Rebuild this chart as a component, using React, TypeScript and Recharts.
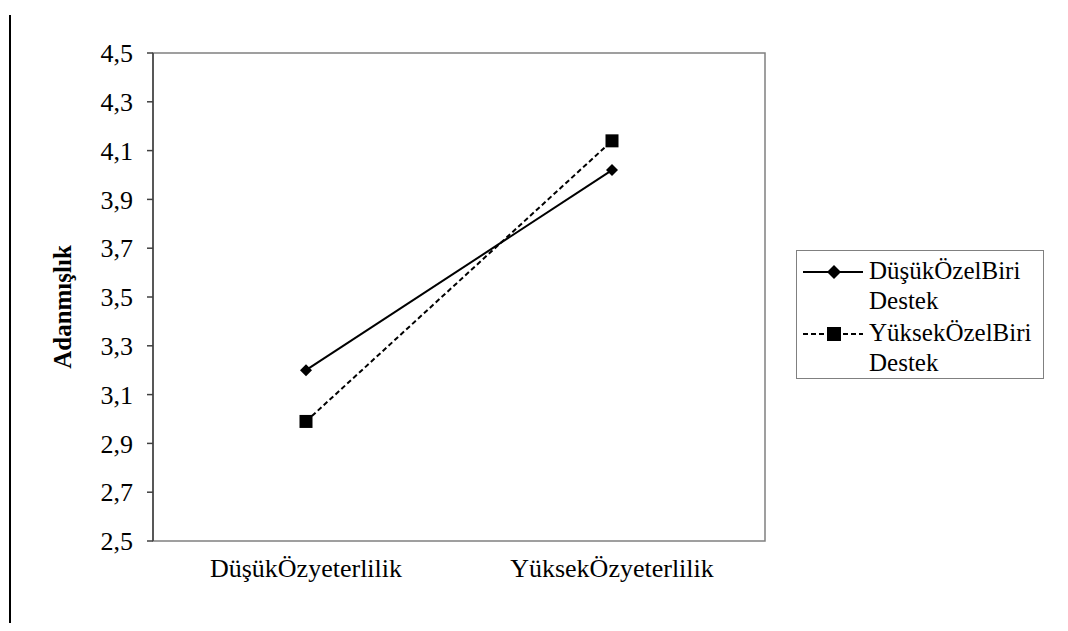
import React from "react";
import {
  LineChart,
  Line,
  XAxis,
  YAxis,
  Legend,
  ReferenceArea,
} from "recharts";

const categories = ["DüşükÖzyeterlilik", "YüksekÖzyeterlilik"];
const dusukDestek = [3.2, 4.02];
const yuksekDestek = [2.99, 4.14];
const yTicks = [2.5, 2.7, 2.9, 3.1, 3.3, 3.5, 3.7, 3.9, 4.1, 4.3, 4.5];
const seriesNames = ["DüşükÖzelBiri Destek", "YüksekÖzelBiri Destek"];

const FONT = "Liberation Serif";

const data = categories.map((name, i) => ({
  x: i + 0.5,
  name,
  dusuk: dusukDestek[i],
  yuksek: yuksekDestek[i],
}));

const Diamond = (props: any) => {
  const { cx, cy, index } = props;
  const r = 6;
  return (
    <path
      key={`d-${index}`}
      d={`M${cx},${cy - r}L${cx + r},${cy}L${cx},${cy + r}L${cx - r},${cy}Z`}
      fill="#000"
    />
  );
};

const Square = (props: any) => {
  const { cx, cy, index } = props;
  const s = 6.5;
  return <rect key={`s-${index}`} x={cx - s} y={cy - s} width={s * 2} height={s * 2} fill="#000" />;
};

// legend box drawn like the old Excel one: icon on the left, name wrapped on two lines
const LegendBox = () => (
  <div
    style={{
      border: "1px solid #808080",
      background: "#fff",
      padding: "5px 2px 0 6px",
      fontFamily: FONT,
      fontSize: 25,
      lineHeight: "30px",
      color: "#000",
      textAlign: "left",
    }}
  >
    {seriesNames.map((n, i) => {
      const [a, b] = n.split(" ");
      return (
        <div key={n} style={{ display: "flex", marginTop: i ? 2 : 0 }}>
          <svg width={60} height={30} style={{ flex: "none" }}>
            <line
              x1={0}
              x2={60}
              y1={16}
              y2={16}
              stroke="#000"
              strokeWidth={2}
              strokeDasharray={i ? "5 3" : undefined}
            />
            {i ? (
              <rect x={24} y={9} width={14} height={14} fill="#000" />
            ) : (
              <path d="M31,9L38,16L31,23L24,16Z" fill="#000" />
            )}
          </svg>
          <div style={{ marginLeft: 6 }}>
            <div>{a}</div>
            <div>{b}</div>
          </div>
        </div>
      );
    })}
  </div>
);

export default function App() {
  return (
    <div style={{ position: "relative", width: 1052, height: 615, fontFamily: FONT }}>
      <div
        style={{
          position: "absolute",
          left: 1,
          top: 7,
          width: 2,
          height: 608,
          background: "#000",
        }}
      />
      <LineChart
        width={1050}
        height={600}
        data={data}
        margin={{ top: 45, right: 45, bottom: 27, left: 20 }}
      >
        <ReferenceArea
          xAxisId="a"
          x1={0}
          x2={2}
          y1={2.5}
          y2={4.5}
          fill="none"
          stroke="#808080"
          strokeWidth={1.5}
          fillOpacity={0}
        />
        <XAxis
          xAxisId="a"
          type="number"
          dataKey="x"
          domain={[0, 2]}
          ticks={[0, 1, 2]}
          interval={0}
          tickFormatter={() => ""}
          height={0}
          tickSize={7}
          axisLine={{ stroke: "#404040", strokeWidth: 2 }}
          tickLine={{ stroke: "#404040", strokeWidth: 1.5 }}
        />
        <XAxis
          xAxisId="c"
          type="number"
          dataKey="x"
          domain={[0, 2]}
          ticks={[0.5, 1.5]}
          interval={0}
          tickFormatter={(v: number) => categories[Math.floor(v)]}
          height={40}
          axisLine={false}
          tickLine={false}
          tickSize={6}
          tickMargin={12}
          tick={{ fill: "#000", fontSize: 26, fontFamily: FONT }}
        />
        <YAxis
          domain={[2.5, 4.5]}
          ticks={yTicks}
          width={125}
          tickSize={6}
          tickMargin={14}
          interval={0}
          tickFormatter={(v: number) => v.toFixed(1).replace(".", ",")}
          tick={{ fill: "#000", fontSize: 26, fontFamily: FONT }}
          axisLine={{ stroke: "#404040", strokeWidth: 1.5 }}
          tickLine={{ stroke: "#404040", strokeWidth: 1.5 }}
          label={(props: any) => {
            const vb = props.viewBox;
            const cx = vb.x + 34;
            const cy = vb.y + vb.height / 2 + 10;
            return (
              <text
                x={cx}
                y={cy}
                transform={`rotate(-90 ${cx} ${cy})`}
                textAnchor="middle"
                dominantBaseline="central"
                fontFamily={FONT}
                fontSize={25}
                fontWeight="bold"
                fill="#000"
              >
                Adanmışlık
              </text>
            );
          }}
        />
        <Legend
          layout="horizontal"
          verticalAlign="middle"
          align="right"
          content={() => <LegendBox />}
          wrapperStyle={{ left: 788, top: 242, width: 248 }}
        />
        <Line
          xAxisId="c"
          type="linear"
          dataKey="dusuk"
          name={seriesNames[0]}
          stroke="#000"
          strokeWidth={2}
          dot={Diamond}
          activeDot={false}
          isAnimationActive={false}
        />
        <Line
          xAxisId="c"
          type="linear"
          dataKey="yuksek"
          name={seriesNames[1]}
          stroke="#000"
          strokeWidth={2}
          strokeDasharray="5 3"
          dot={Square}
          activeDot={false}
          isAnimationActive={false}
        />
      </LineChart>
    </div>
  );
}
